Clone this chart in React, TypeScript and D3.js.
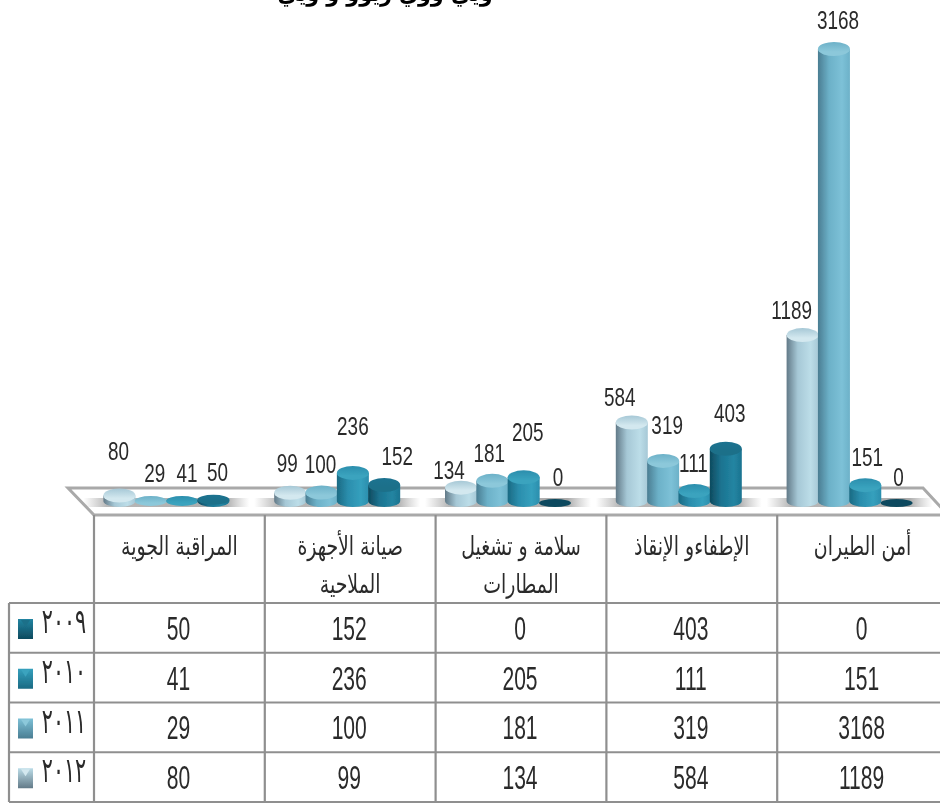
import React from "react";
import * as d3 from "d3";

const categories = ["المراقبة الجوية", "صيانة الأجهزة|الملاحية", "سلامة و تشغيل|المطارات", "الإطفاءو الإنقاذ", "أمن الطيران"];
const years2012 = [80, 99, 134, 584, 1189];
const years2011 = [29, 100, 181, 319, 3168];
const years2010 = [41, 236, 205, 111, 151];
const years2009 = [50, 152, 0, 403, 0];
const seriesNames = ["2012", "2011", "2010", "2009"];
const seriesLabels = ["٢٠١٢", "٢٠١١", "٢٠١٠", "٢٠٠٩"];
const seriesValues = [years2012, years2011, years2010, years2009];
const titleFragment = "ويي ووي ريوو و ويي";

// presentation only
const palette: Record<string, { dark: string; mid: string; light: string; top: string }> = {
  "2012": { dark: "#627a88", mid: "#a6c8d6", light: "#bcdde8", top: "#d3e8ef" },
  "2011": { dark: "#4a7d92", mid: "#6cb1c8", light: "#7dc1d7", top: "#8cc8da" },
  "2010": { dark: "#1a6a83", mid: "#2b8ead", light: "#35a0bd", top: "#3aa3be" },
  "2009": { dark: "#0e4a5e", mid: "#1c7390", light: "#2285a2", top: "#1c6f89" },
};
// label offset from the top of each column [dx, dy], by series then category
const labelNudge: [number, number][][] = [
  [[-1, -35], [-3, -21], [-12, -9], [-12, -17], [-11, -16]],
  [[4, -19], [-1, -20], [-3, -19], [4, -27], [4, -20]],
  [[5, -19], [0, -38], [4, -36], [-1, -19], [2, -19]],
  [[4, -19], [13, -20], [3, -15], [4, -27], [2, -15]],
];

const FONT = "'Liberation Sans',sans-serif";
const AR = "'DejaVu Sans Condensed','DejaVu Sans','Noto Sans',sans-serif";

function Stretched({ x, y, size, sx = 1, sy = 1, children, weight, fill = "#2a2a2a", family = FONT }: any) {
  return (
    <text transform={`translate(${x},${y}) scale(${sx},${sy})`} textAnchor="middle" fontFamily={family}
      fontSize={size} fontWeight={weight} fill={fill}>{children}</text>
  );
}

export default function App() {
  const W = 940, H = 804;
  const colX = d3.scaleBand<number>().domain(d3.range(categories.length)).range([94, 948]).padding(0);
  const groupX = d3.scaleBand<number>().domain(d3.range(categories.length)).range([81, 935]).padding(0);
  const barX = d3.scalePoint<number>().domain(d3.range(seriesNames.length)).range([-47, 47]);
  const y = d3.scaleLinear().domain([0, 3168]).range([507, 49]);
  const rowY = d3.scaleBand<number>().domain(d3.range(4)).range([603, 802]);
  const rowNames = [...seriesNames].reverse();
  const rowLabels = [...seriesLabels].reverse();
  const rowValues = [...seriesValues].reverse();
  const colEdges = [...colX.domain().map(i => colX(i) as number)];
  const lineC = "#8f8f8f";
  const rx = 16;

  return (
    <svg width={W} height={H} viewBox={`0 0 ${W} ${H}`} style={{ position: "absolute", left: 0, top: 0, background: "#fff" }}>
      <defs>
        <filter id="soft" x="-5%" y="-5%" width="110%" height="110%"><feGaussianBlur stdDeviation="0.5" /></filter>
        <linearGradient id="floorShadow" x1="0" x2="1" y1="0" y2="0">
          <stop offset="0" stopColor="#a8a8a8" stopOpacity="0" />
          <stop offset="0.14" stopColor="#a0a0a0" stopOpacity="0.75" />
          <stop offset="0.86" stopColor="#909090" stopOpacity="0.75" />
          <stop offset="1" stopColor="#a8a8a8" stopOpacity="0" />
        </linearGradient>
        {seriesNames.map(s => (
          <g key={s}>
            <linearGradient id={`side${s}`} x1="0" x2="1" y1="0" y2="0">
              <stop offset="0" stopColor={palette[s].dark} />
              <stop offset="0.35" stopColor={palette[s].mid} />
              <stop offset="0.75" stopColor={palette[s].light} />
              <stop offset="1" stopColor={palette[s].mid} />
            </linearGradient>
            <linearGradient id={`cap${s}`} x1="0" x2="0" y1="0" y2="1">
              <stop offset="0" stopColor={palette[s].mid} />
              <stop offset="0.7" stopColor={palette[s].top} />
              <stop offset="1" stopColor={palette[s].top} />
            </linearGradient>
            <linearGradient id={`swatch${s}`} x1="0" x2="0" y1="0" y2="1">
              <stop offset="0" stopColor={palette[s].light} />
              <stop offset="1" stopColor={palette[s].dark} />
            </linearGradient>
          </g>
        ))}
      </defs>
      <g filter="url(#soft)">
        <Stretched x={385} y={1} size={23} weight="bold" fill="#000" family={AR}>{titleFragment}</Stretched>

        {/* floor */}
        <path d="M68,488 L923,488 L948,515 L94,515 Z" fill="#fff" stroke="#a9a9a9" strokeWidth={3} />
        {categories.map((_, c) => {
          const cx = (groupX(c) as number) + groupX.bandwidth() / 2;
          return <rect key={c} x={cx - 83} y={498} width={166} height={9} fill="url(#floorShadow)" />;
        })}

        {/* columns */}
        {seriesNames.map((s, si) => categories.map((_, c) => {
          const v = seriesValues[si][c];
          const cx = (groupX(c) as number) + groupX.bandwidth() / 2 + (barX(si) as number);
          const ry = v === 0 ? 4 : v < 60 ? 5 : 7;
          const top = Math.min(y(v), v === 0 ? 503 : 501);
          const bottom = 501;
          return (
            <g key={`${s}-${c}`}>
              {top < bottom && (
                <path d={`M${cx - rx},${top} V${bottom} A${rx},6 0 0 0 ${cx + rx},${bottom} V${top} Z`} fill={`url(#side${s})`} />
              )}
              <ellipse cx={cx} cy={top} rx={rx} ry={ry} fill={v === 0 ? palette[s].dark : `url(#cap${s})`} />
            </g>
          );
        }))}

        {/* data labels */}
        {seriesNames.map((s, si) => categories.map((_, c) => {
          const v = seriesValues[si][c];
          const cx = (groupX(c) as number) + groupX.bandwidth() / 2 + (barX(si) as number);
          const [dx, dy] = labelNudge[si][c];
          return <Stretched key={`${s}-l${c}`} x={cx + dx} y={Math.min(y(v), 501) + dy} size={22} sx={0.86} sy={1.15}>{v}</Stretched>;
        }))}

        {/* table */}
        <g fill="none" stroke={lineC} strokeWidth={2.2}>
          <line x1={94} x2={94} y1={515} y2={802} />
          {colEdges.slice(1).map(x => <line key={x} x1={x} x2={x} y1={515} y2={802} />)}
          <line x1={9} x2={940} y1={603} y2={603} />
          {rowNames.map((_, r) => <line key={r} x1={9} x2={940} y1={(rowY(r) as number) + rowY.bandwidth()} y2={(rowY(r) as number) + rowY.bandwidth()} />)}
          <line x1={9} x2={9} y1={603} y2={802} />
        </g>

        {categories.map((name, c) => {
          const cx = (colX(c) as number) + colX.bandwidth() / 2;
          return name.split("|").map((ln, i) => (
            <text key={i} transform={`translate(${cx},${555 + i * 38}) scale(1,1.25)`} direction="rtl" textAnchor="middle" fontFamily={AR} fontSize={21} fill="#2a2a2a">{ln}</text>
          ));
        })}

        {rowNames.map((s, r) => {
          const ry0 = rowY(r) as number;
          const b = rowY.bandwidth();
          return (
            <g key={s}>
              <rect x={18} y={ry0 + 16} width={15} height={20} fill={`url(#swatch${s})`} />
              <path d={`M21,${ry0 + 17} L30,${ry0 + 17} L25.5,${ry0 + 24} Z`} fill={palette[s].top} />
              <Stretched x={64} y={ry0 + 30} size={23} sy={1.5} family={AR}>{rowLabels[r]}</Stretched>
              {categories.map((_, c) => (
                <Stretched key={c} x={(colX(c) as number) + colX.bandwidth() / 2 - 1} y={ry0 + b / 2 + 12} size={26} sx={0.81} sy={1.25}>{rowValues[r][c]}</Stretched>
              ))}
            </g>
          );
        })}
      </g>
    </svg>
  );
}
